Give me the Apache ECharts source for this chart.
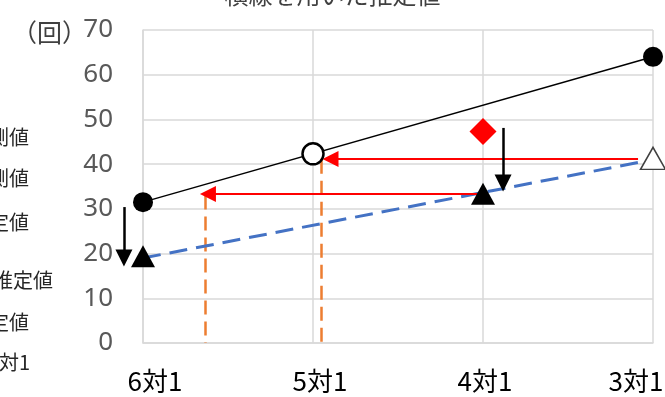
<!DOCTYPE html>
<html>
<head>
<meta charset="utf-8">
<script src="https://cdn.jsdelivr.net/npm/echarts@6/dist/echarts.min.js"></script>
<style>
  html, body { margin: 0; padding: 0; background: #fff; }
  #chart { width: 665px; height: 397px; }
</style>
</head>
<body>
<div id="chart"></div>
<script>
// Ratio positions on the x axis (6対1 ... 3対1) and count axis (回)
const xTicks = [6, 5, 4, 3];
const yMin = 0, yMax = 70, yStep = 10;

// Solid black line: measured counts at 6対1 and 3対1
const measuredLine = [[6, 31.5], [3, 64]];
// Open circle at 5対1
const readPoint = [[5, 42.3]];
// Blue dashed line between the two triangle values
const estimateLine = [[6, 19], [3, 41]];
// Filled triangles
const triangles = [[6, 19.4], [4, 33.4]];
// Open triangle at 3対1
const openTriangle = [[3, 41.3]];
// Red diamond at 4対1
const diamond = [[4, 47.3]];
// Black downward arrows (start, arrow-head centre)
const blackArrows = [
  [[6.112, 30.4], [6.112, 19.0]],
  [[3.882, 48.1], [3.882, 35.8]]
];
// Red leftward arrows (start, arrow-head centre)
const redArrows = [
  [[3.088, 41.15], [4.897, 41.15]],
  [[4.035, 33.3], [5.618, 33.3]]
];
// Orange dashed drop lines down to the axis
const dropLines = [
  [[5.634, 33.0], [5.634, 0]],
  [[4.949, 41.0], [4.949, 0]]
];
// Legend captions on the left edge
const legendTexts = ['実測値', '予測値', '推定値', '直線推定値', '推定値', '3対1'];
const legendY = [137, 178, 222, 280, 322, 362];
const legendRight = [29, 29, 29, 53, 29, 30];

const chart = echarts.init(document.getElementById('chart'));

const toLines = arr => arr.map(seg => ({ coords: seg }));

const graphics = [
  {
    type: 'text', left: 'center', top: -17,
    style: { text: '横線を用いた推定値', fill: '#404040',
      font: '24px "Noto Sans CJK JP"' }
  },
  {
    type: 'text',
    style: { text: '（回）', x: 12, y: 32, fill: '#404040', textAlign: 'left',
      textVerticalAlign: 'middle', font: '25px "Noto Sans CJK JP"' }
  }
];
legendTexts.forEach((t, i) => {
  graphics.push({
    type: 'text',
    style: { text: t, x: legendRight[i], y: legendY[i], textAlign: 'right',
      textVerticalAlign: 'middle', fill: '#262626', font: '20px "Noto Sans CJK JP"' }
  });
});

// Category labels keep inside the chart edge: nudge each one sideways
const labelFont = { fontSize: 26, color: '#000', fontFamily: '"Noto Sans CJK JP"' };
const labelRich = {
  s6: Object.assign({ padding: [0, 0, 0, 24] }, labelFont),
  s5: Object.assign({ padding: [0, 0, 0, 14] }, labelFont),
  s4: Object.assign({ padding: [0, 0, 0, 4] }, labelFont),
  s3: Object.assign({ padding: [0, 34, 0, 0] }, labelFont)
};

chart.setOption({
  animation: false,
  grid: { left: 143, right: 12, top: 30, bottom: 54, containLabel: false, outerBoundsMode: 'none' },
  graphic: graphics,
  xAxis: {
    type: 'value', min: 3, max: 6, interval: 1, inverse: true,
    axisLine: { show: true, lineStyle: { color: '#d9d9d9', width: 1.5 } },
    axisTick: { show: false },
    splitLine: { show: true, lineStyle: { color: '#d9d9d9', width: 1.5 } },
    axisLabel: {
      margin: 25, color: '#000', fontSize: 26, fontFamily: '"Noto Sans CJK JP"',
      hideOverlap: false, showMinLabel: true, showMaxLabel: true,
      rich: labelRich,
      formatter: v => xTicks.includes(v) ? `{s${v}|${v}対1}` : ''
    }
  },
  yAxis: {
    type: 'value', min: yMin, max: yMax, interval: yStep,
    axisLine: { show: true, lineStyle: { color: '#d9d9d9', width: 1.5 } },
    axisTick: { show: false },
    splitLine: { show: true, lineStyle: { color: '#d9d9d9', width: 1.5 } },
    axisLabel: { margin: 30, color: '#595959', fontSize: 26, fontFamily: '"Noto Sans"' }
  },
  series: [
    {
      type: 'lines', coordinateSystem: 'cartesian2d', clip: false, z: 2,
      symbol: ['none', 'none'],
      lineStyle: { color: '#ed7d31', width: 2.5, type: [14, 7], opacity: 1 },
      data: toLines(dropLines)
    },
    {
      type: 'line', data: estimateLine, showSymbol: false, z: 3,
      lineStyle: { color: '#4472c4', width: 3, type: [18, 9], opacity: 1 }
    },
    {
      type: 'line', data: measuredLine, symbol: 'circle', symbolSize: 20, z: 4,
      lineStyle: { color: '#000', width: 1.5, opacity: 1 },
      itemStyle: { color: '#000', opacity: 1 }
    },
    {
      type: 'lines', coordinateSystem: 'cartesian2d', clip: false, z: 5,
      symbol: ['none', 'triangle'], symbolSize: 16,
      lineStyle: { color: '#ff0000', width: 2, opacity: 1 },
      data: toLines(redArrows)
    },
    {
      type: 'scatter', data: readPoint, symbol: 'circle', symbolSize: 21, z: 6,
      itemStyle: { color: '#fff', borderColor: '#000', borderWidth: 2.5, opacity: 1 }
    },
    {
      type: 'scatter', data: triangles, symbol: 'triangle', symbolSize: [24, 22], z: 6,
      itemStyle: { color: '#000', opacity: 1 }
    },
    {
      type: 'scatter', data: openTriangle, symbol: 'triangle', symbolSize: [25, 22], z: 6,
      itemStyle: { color: '#fff', borderColor: '#404040', borderWidth: 1.5, opacity: 1 }
    },
    {
      type: 'scatter', data: diamond, symbol: 'diamond', symbolSize: [27, 27], z: 6,
      itemStyle: { color: '#ff0000', opacity: 1 }
    },
    {
      type: 'lines', coordinateSystem: 'cartesian2d', clip: false, z: 7,
      symbol: ['none', 'triangle'], symbolSize: 17,
      lineStyle: { color: '#000', width: 2.5, opacity: 1 },
      data: toLines(blackArrows)
    }
  ]
});
</script>
</body>
</html>
